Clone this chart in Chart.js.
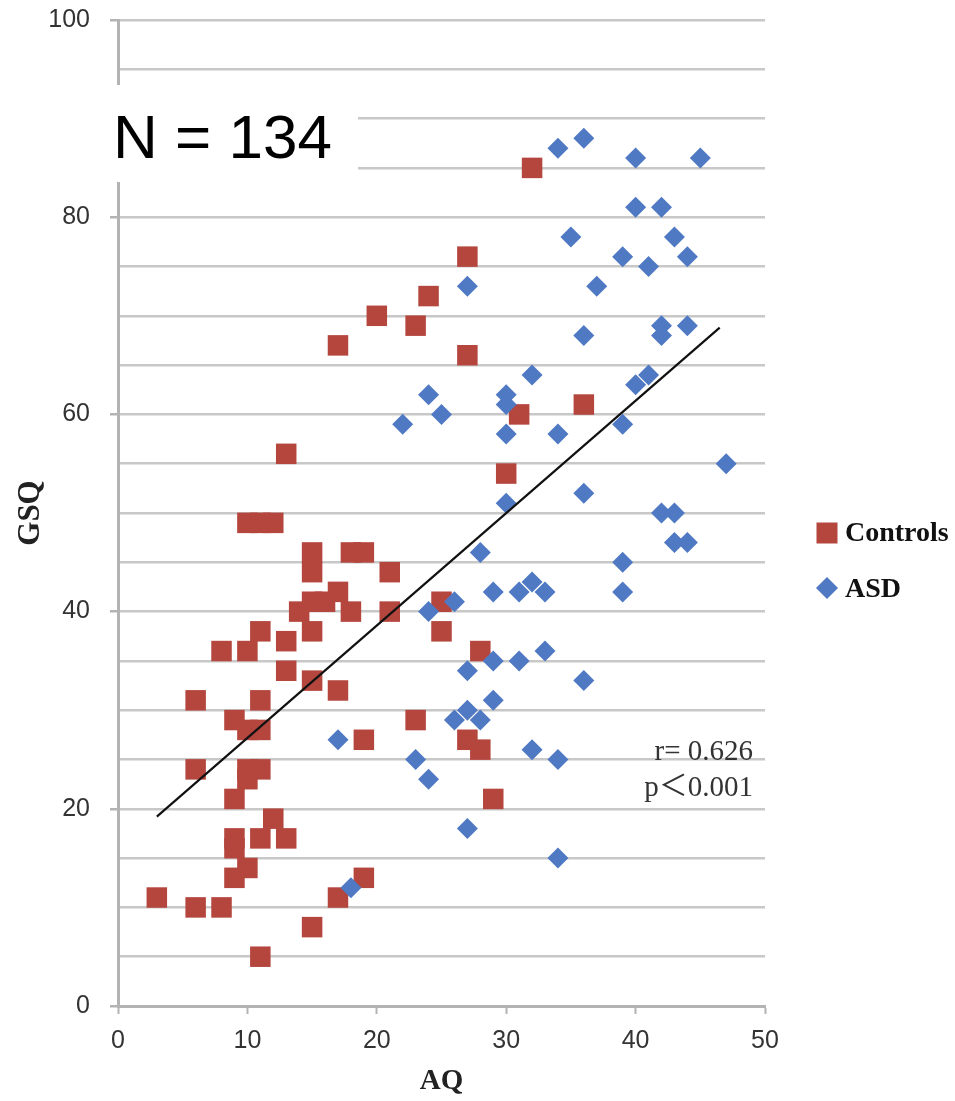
<!DOCTYPE html>
<html>
<head>
<meta charset="utf-8">
<style>
  html, body { margin: 0; padding: 0; background: #fff; }
  #wrap { width: 955px; height: 1101px; }
</style>
</head>
<body>
<div id="wrap"><canvas id="gsqChart" width="955" height="1101"></canvas></div>
<script src="https://cdn.jsdelivr.net/npm/chart.js@4/dist/chart.umd.min.js"></script>
<script>
// Controls group (red squares)
const controlsAQ  = [3, 6, 6, 6, 8, 8, 9, 9, 9, 9, 9, 10, 10, 11, 10, 10, 11, 10, 11, 11, 11, 11, 10, 11, 12, 12, 13, 13, 13, 13, 14, 15, 15, 15, 15, 15, 15, 16, 17, 17, 17, 17, 18, 19, 18, 19, 19, 20, 21, 21, 23, 23, 24, 25, 25, 27, 27, 27, 28, 28, 29, 30, 31, 32, 36];
const controlsGSQ = [11, 31, 24, 10, 10, 36, 29, 21, 17, 16, 13, 14, 24, 24, 23, 28, 28, 36, 38, 31, 17, 5, 49, 49, 49, 19, 56, 37, 34, 17, 40, 46, 44, 41, 38, 33, 8, 41, 42, 32, 11, 67, 46, 46, 40, 27, 13, 70, 44, 40, 69, 29, 72, 41, 38, 76, 66, 27, 36, 26, 21, 54, 60, 85, 61];

// ASD group (blue diamonds)
const asdAQ  = [17, 18, 22, 23, 24, 24, 24, 25, 26, 26, 27, 27, 27, 27, 28, 28, 29, 29, 29, 30, 30, 30, 30, 31, 31, 32, 32, 32, 33, 33, 34, 34, 34, 34, 35, 36, 36, 36, 36, 37, 39, 39, 39, 39, 40, 40, 40, 41, 41, 42, 42, 42, 42, 43, 43, 43, 44, 44, 44, 45, 47];
const asdGSQ = [27, 12, 59, 25, 23, 62, 40, 60, 41, 29, 73, 34, 30, 18, 46, 29, 42, 35, 31, 62, 61, 58, 51, 42, 35, 64, 43, 26, 42, 36, 87, 58, 25, 15, 78, 88, 68, 52, 33, 73, 76, 59, 45, 42, 86, 81, 63, 75, 64, 81, 69, 68, 50, 78, 50, 47, 76, 69, 47, 86, 55];

// regression line end points
const trendAQ  = [3, 46.5];
const trendGSQ = [19.2, 68.8];

const sampleLabel = 'N = 134';
const statLines = ['r= 0.626', 'p\uFF1C0.001'];

const controlsColor = '#b4463e';
const asdColor = '#5079c4';
const gridColor = '#c8c8c8';
const axisColor = '#b3b3b3';

function toPoints(xs, ys) {
    return xs.map((x, i) => ({ x: x, y: ys[i] }));
}

// white box with the sample size, stats text and the legend
const overlayPlugin = {
    id: 'overlay',
    afterDraw(chart) {
        const ctx = chart.ctx;
        const area = chart.chartArea;
        ctx.save();

        // N = 134
        ctx.fillStyle = '#fff';
        ctx.fillRect(100, 85, 258, 97);
        ctx.fillStyle = '#000';
        ctx.font = '62px "Liberation Sans", Arial, sans-serif';
        ctx.textAlign = 'left';
        ctx.textBaseline = 'alphabetic';
        ctx.fillText(sampleLabel, 113, 158);

        // r / p
        ctx.fillStyle = '#333';
        ctx.font = '29px "Liberation Serif", "Noto Sans CJK JP", serif';
        ctx.textAlign = 'right';
        ctx.fillText(statLines[0], area.right - 12, 760);
        ctx.fillText(statLines[1], area.right - 12, 796);

        // legend
        const lx = area.right + 62;
        ctx.fillStyle = controlsColor;
        ctx.fillRect(lx - 10.5, 522.5, 21, 21);
        ctx.fillStyle = asdColor;
        ctx.beginPath();
        ctx.moveTo(lx, 577);
        ctx.lineTo(lx + 11, 588);
        ctx.lineTo(lx, 599);
        ctx.lineTo(lx - 11, 588);
        ctx.closePath();
        ctx.fill();
        ctx.fillStyle = '#111';
        ctx.font = 'bold 28px "Liberation Serif", "Times New Roman", serif';
        ctx.textAlign = 'left';
        ctx.textBaseline = 'middle';
        ctx.fillText(chart.data.datasets[0].label, lx + 18, 534);
        ctx.fillText(chart.data.datasets[1].label, lx + 18, 590);

        ctx.restore();
    }
};

const ctx = document.getElementById('gsqChart').getContext('2d');
const gsqChart = new Chart(ctx, {
    type: 'scatter',
    data: {
        datasets: [{
            label: 'Controls',
            data: toPoints(controlsAQ, controlsGSQ),
            pointStyle: 'rect',
            pointRadius: 14.5,
            pointHoverRadius: 14.5,
            backgroundColor: controlsColor,
            borderColor: controlsColor,
            borderWidth: 0,
            order: 2
        }, {
            label: 'ASD',
            data: toPoints(asdAQ, asdGSQ),
            pointStyle: 'rectRot',
            pointRadius: 10.5,
            pointHoverRadius: 10.5,
            backgroundColor: asdColor,
            borderColor: asdColor,
            borderWidth: 0,
            order: 1
        }, {
            label: 'trend',
            type: 'line',
            data: toPoints(trendAQ, trendGSQ),
            showLine: true,
            borderColor: '#111',
            borderWidth: 2.2,
            pointRadius: 0,
            fill: false,
            order: 0
        }]
    },
    options: {
        responsive: false,
        animation: false,
        layout: {
            padding: { top: 20, right: 190, left: 0, bottom: 0 }
        },
        plugins: {
            legend: { display: false },
            tooltip: { enabled: false }
        },
        scales: {
            x: {
                type: 'linear',
                min: 0,
                max: 50,
                afterFit: scale => {
                    scale.height = 95;
                    scale.paddingLeft = 0;
                    scale.paddingRight = 0;
                },
                ticks: {
                    stepSize: 10,
                    padding: 12,
                    color: '#333',
                    font: { family: '"Liberation Sans", Arial, sans-serif', size: 25 }
                },
                grid: {
                    drawOnChartArea: false,
                    drawTicks: true,
                    tickLength: 8,
                    tickColor: axisColor,
                    tickWidth: 2
                },
                border: { color: axisColor, width: 3 },
                title: {
                    display: true,
                    text: 'AQ',
                    color: '#222',
                    padding: { top: 4, bottom: 2 },
                    font: { family: '"Liberation Serif", "Times New Roman", serif', size: 29, weight: 'bold' }
                }
            },
            y: {
                type: 'linear',
                min: 0,
                max: 100,
                afterFit: scale => {
                    scale.width = 118;
                    scale.paddingTop = 0;
                    scale.paddingBottom = 0;
                },
                ticks: {
                    stepSize: 5,
                    padding: 20,
                    color: '#333',
                    font: { family: '"Liberation Sans", Arial, sans-serif', size: 25 },
                    callback: value => (value % 20 === 0 ? value : '')
                },
                grid: {
                    color: gridColor,
                    lineWidth: 2.5,
                    tickLength: 8,
                    tickWidth: 2.5,
                    tickColor: c => (c.tick && c.tick.value % 20 === 0 ? axisColor : 'rgba(0,0,0,0)')
                },
                border: { color: axisColor, width: 3 },
                title: {
                    display: true,
                    text: 'GSQ',
                    color: '#222',
                    padding: { top: 12, bottom: 4 },
                    font: { family: '"Liberation Serif", "Times New Roman", serif', size: 31, weight: 'bold' }
                }
            }
        }
    },
    plugins: [overlayPlugin]
});
</script>
</body>
</html>
